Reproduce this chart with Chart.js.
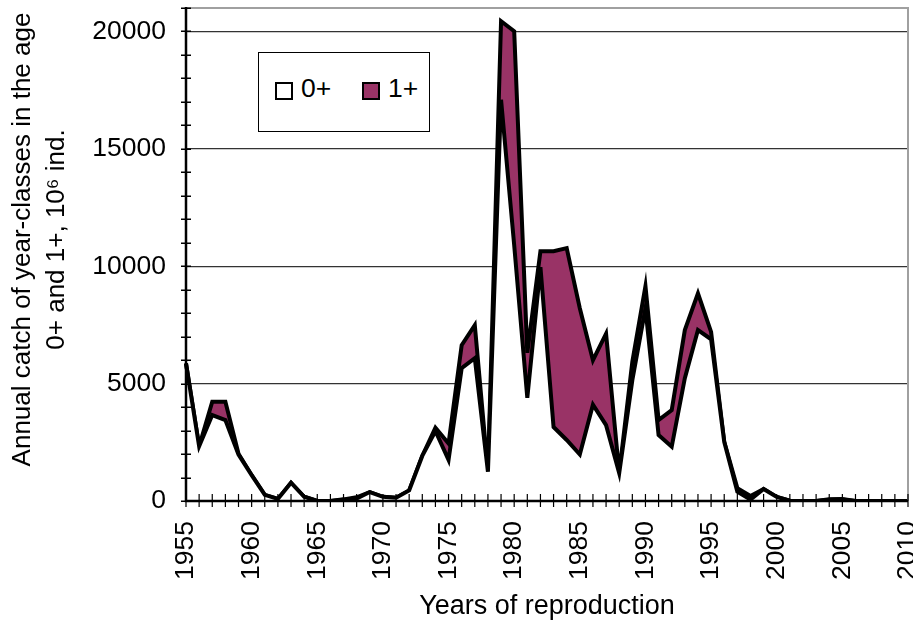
<!DOCTYPE html>
<html>
<head>
<meta charset="utf-8">
<script src="https://cdn.jsdelivr.net/npm/chart.js@4/dist/chart.umd.min.js"></script>
<style>
html,body{margin:0;padding:0;background:#fff;}
#wrap{position:relative;width:913px;height:623px;overflow:hidden;}
canvas{display:block;}
#legend{position:absolute;left:258px;top:52px;width:170px;height:78px;border:1px solid #000;background:#fff;
  font-family:Arial,"Liberation Sans",sans-serif;font-size:26.5px;color:#000;}
.sw{position:absolute;width:14px;height:14px;border:2px solid #000;}
.lt{position:absolute;line-height:26px;white-space:nowrap;}
</style>
</head>
<body>
<div id="wrap">
<canvas id="c" width="913" height="623"></canvas>
<div id="legend"></div>
</div>
<script>
// ---- data ----
const years = ['1955','1956','1957','1958','1959','1960','1961','1962','1963','1964',
  '1965','1966','1967','1968','1969','1970','1971','1972','1973','1974',
  '1975','1976','1977','1978','1979','1980','1981','1982','1983','1984',
  '1985','1986','1987','1988','1989','1990','1991','1992','1993','1994',
  '1995','1996','1997','1998','1999','2000','2001','2002','2003','2004',
  '2005','2006','2007','2008','2009','2010'];

// catch of age 0+ (10^6 ind.)
const catch0 = [5860,2330,3660,3450,1980,1100,260,90,780,180,
  0,0,50,100,380,180,140,450,1920,2980,
  1750,5660,6080,1250,17090,10900,4400,9960,3150,2600,
  1980,4100,3230,1190,5150,8210,2810,2310,5230,7280,
  6890,2520,400,60,510,170,10,0,0,50,
  60,0,0,0,0,0];

// catch of age 1+ (10^6 ind.), stacked on top of 0+
const catch1 = [0,0,570,780,30,0,0,0,0,0,
  0,0,20,60,0,0,0,0,0,140,
  700,980,1410,0,3350,9110,1910,680,7490,8170,
  6230,1900,3900,0,780,940,640,1560,2050,1570,
  310,0,150,150,0,0,0,0,0,20,
  20,0,0,0,0,0];

const seriesNames = ['0+','1+'];
const yTitleLines = ['Annual catch of year-classes in the age', '0+ and 1+, 10\u2076 ind.'];
const xTitle = 'Years of reproduction';
const yTickStep = 1000;
const yLabelStep = 5000;
const yMax = 21000;

// ---- styles ----
const FONT = 'Arial, "Liberation Sans", sans-serif';
const PURPLE = '#993366';

const decoPlugin = {
  id: 'deco',
  afterDatasetsDraw(chart) {
    const {ctx, chartArea: ca, scales: {x, y}} = chart;
    ctx.save();
    // grey frame top/right
    ctx.strokeStyle = '#a0a0a0';
    ctx.lineWidth = 2;
    ctx.beginPath();
    ctx.moveTo(ca.left, ca.top);
    ctx.lineTo(ca.right, ca.top);
    ctx.lineTo(ca.right, ca.bottom);
    ctx.stroke();
    // y tick marks (crossing)
    ctx.strokeStyle = '#000';
    ctx.lineWidth = 1.5;
    ctx.beginPath();
    y.ticks.forEach(t => {
      const py = Math.round(y.getPixelForValue(t.value)) + 0.25;
      ctx.moveTo(ca.left - 5, py);
      ctx.lineTo(ca.left + 5, py);
    });
    ctx.stroke();
    // x tick marks (crossing)
    ctx.lineWidth = 1.2;
    ctx.beginPath();
    x.ticks.forEach((t, i) => {
      const px = x.getPixelForTick(i);
      ctx.moveTo(px, ca.bottom - 7);
      ctx.lineTo(px, ca.bottom + 6);
    });
    ctx.stroke();
    // axes
    ctx.lineWidth = 2.5;
    ctx.beginPath();
    ctx.moveTo(ca.left, ca.top - 1);
    ctx.lineTo(ca.left, ca.bottom);
    ctx.lineTo(ca.right, ca.bottom);
    ctx.stroke();
    ctx.restore();
  },
  afterDraw(chart) {
    // vertical axis title (two lines)
    const {ctx, chartArea: ca} = chart;
    ctx.save();
    ctx.fillStyle = '#000';
    ctx.font = '26px ' + FONT;
    ctx.textAlign = 'center';
    ctx.textBaseline = 'middle';
    const cy = (ca.top + ca.bottom) / 2 - 15;
    ctx.translate(0, cy);
    ctx.rotate(-Math.PI / 2);
    ctx.fillText(yTitleLines[0], 0, 23);
    ctx.fillText(yTitleLines[1], 0, 57);
    ctx.restore();
  }
};

const chart = new Chart(document.getElementById('c'), {
  type: 'line',
  data: {
    labels: years,
    datasets: [
      {label: seriesNames[0], data: catch0, fill: 'origin', backgroundColor: '#ffffff',
       borderColor: '#000', borderWidth: 4, pointRadius: 0, tension: 0, borderJoinStyle: 'miter'},
      {label: seriesNames[1], data: catch1, fill: '-1', backgroundColor: PURPLE,
       borderColor: '#000', borderWidth: 4, pointRadius: 0, tension: 0, borderJoinStyle: 'miter'}
    ]
  },
  options: {
    responsive: false,
    animation: false,
    devicePixelRatio: 1,
    layout: {padding: {top: 8, right: 5, left: 0, bottom: 0}},
    plugins: {legend: {display: false}, tooltip: {enabled: false}},
    scales: {
      x: {
        type: 'category',
        offset: false,
        grid: {display: false, drawTicks: false},
        border: {display: false},
        ticks: {
          autoSkip: false, maxRotation: 90, minRotation: 90, padding: 20,
          color: '#000', font: {family: FONT, size: 26.5},
          callback: function(v) {
            const lab = this.getLabelForValue(v);
            return Number(lab) % 5 === 0 ? lab : '';
          }
        },
        title: {display: true, text: xTitle, color: '#000',
          font: {family: FONT, size: 27, lineHeight: 1.2}, padding: {top: 0, bottom: 0}},
        afterFit(s) { s.height = 122; s.paddingLeft = 0; s.paddingRight = 0; }
      },
      y: {
        stacked: true,
        min: 0, max: yMax,
        grid: {
          drawTicks: false,
          lineWidth: 1.2,
          color: ctx => (ctx.tick && ctx.tick.value > 0 && ctx.tick.value < yMax && ctx.tick.value % yLabelStep === 0) ? '#333' : 'rgba(0,0,0,0)'
        },
        border: {display: false},
        ticks: {
          autoSkip: false,
          stepSize: yTickStep, padding: 20, color: '#000',
          font: {family: FONT, size: 26.5},
          callback: v => (v % yLabelStep === 0 ? String(v) : '')
        },
        title: {display: false},
        afterFit(s) { s.width = 186; s.paddingTop = 0; s.paddingBottom = 0; }
      }
    }
  },
  plugins: [decoPlugin]
});

// HTML legend built from the datasets
(function buildLegend() {
  const lg = document.getElementById('legend');
  const pos = [{sw: 16, tx: 42}, {sw: 103, tx: 129}];
  chart.data.datasets.forEach((ds, i) => {
    const sw = document.createElement('span');
    sw.className = 'sw';
    sw.style.left = pos[i].sw + 'px';
    sw.style.top = '29px';
    sw.style.background = ds.backgroundColor;
    lg.appendChild(sw);
    const tx = document.createElement('span');
    tx.className = 'lt';
    tx.style.left = pos[i].tx + 'px';
    tx.style.top = '22px';
    tx.textContent = ds.label;
    lg.appendChild(tx);
  });
})();
</script>
</body>
</html>
